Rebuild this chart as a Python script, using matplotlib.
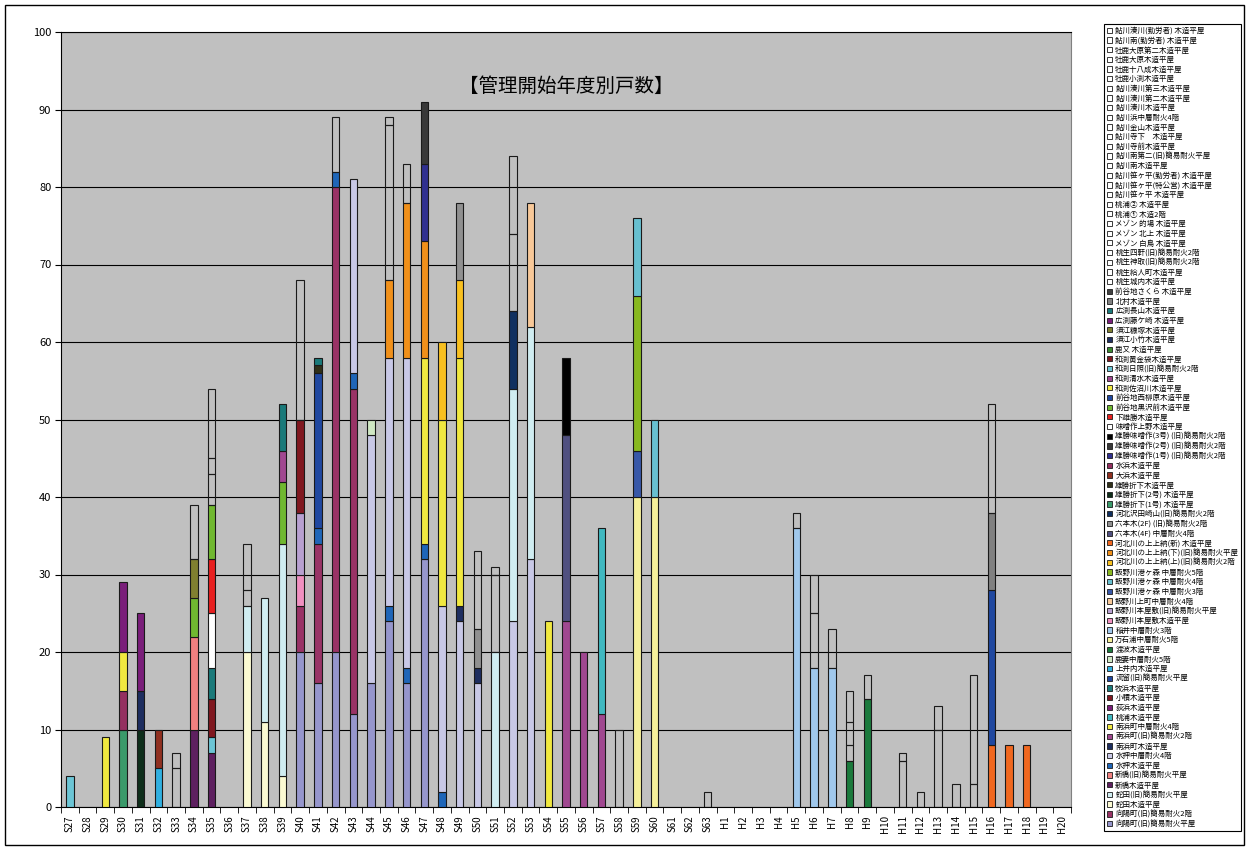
import matplotlib
matplotlib.use('Agg')
import matplotlib.pyplot as plt
from matplotlib.patches import Patch, Rectangle

plt.rcParams['font.family'] = ['Noto Sans CJK JP', 'DejaVu Sans']

# categories (fiscal year management started)
categories = ['S%d' % y for y in range(27, 64)] + ['H%d' % y for y in range(1, 21)]

# series, bottom of the stack first
series_names = [
    '向陽町(旧)簡易耐火平屋', '向陽町(旧)簡易耐火2階', '蛇田木造平屋', '蛇田(旧)簡易耐火平屋',
    '新橋木造平屋', '新橋(旧)簡易耐火平屋', '水押木造平屋', '水押中層耐火4階',
    '南浜町木造平屋', '南浜町(旧)簡易耐火2階', '南浜町中層耐火4階', '桃浦木造平屋',
    '荻浜木造平屋', '小積木造平屋', '牧浜木造平屋', '流留(旧)簡易耐火平屋',
    '上井内木造平屋', '鹿妻中層耐火5階', '渡波木造平屋', '万石浦中層耐火5階',
    '稲井中層耐火3階', '飯野川本屋敷木造平屋', '飯野川本屋敷(旧)簡易耐火平屋', '飯野川上町中層耐火4階',
    '飯野川港ヶ森 中層耐火3階', '飯野川港ヶ森 中層耐火4階', '飯野川港ヶ森 中層耐火5階',
    '河北川の上上納(上)(旧)簡易耐火2階', '河北川の上上納(下)(旧)簡易耐火平屋', '河北川の上上納(新) 木造平屋',
    '六本木(4F) 中層耐火4階', '六本木(2F) (旧)簡易耐火2階', '河北沢田崎山(旧)簡易耐火2階',
    '雄勝折下(1号) 木造平屋', '雄勝折下(2号) 木造平屋', '雄勝折下木造平屋', '大浜木造平屋', '水浜木造平屋',
    '雄勝味噌作(1号) (旧)簡易耐火2階', '雄勝味噌作(2号) (旧)簡易耐火2階', '雄勝味噌作(3号) (旧)簡易耐火2階',
    '味噌作上野木造平屋', '下雄勝木造平屋', '前谷地黒沢前木造平屋', '前谷地西柳原木造平屋',
    '和渕佐沼川木造平屋', '和渕清水木造平屋', '和渕日照(旧)簡易耐火2階', '和渕黄金袋木造平屋',
    '鹿又 木造平屋', '須江小竹木造平屋', '須江糠塚木造平屋', '広渕藤ケ崎 木造平屋', '広渕長山木造平屋',
    '北村木造平屋', '前谷地さくら 木造平屋', '桃生城内木造平屋', '桃生給人町木造平屋',
    '桃生神取(旧)簡易耐火2階', '桃生四軒(旧)簡易耐火2階', 'メゾン 白鳥 木造平屋', 'メゾン 北上 木造平屋',
    'メゾン 的場 木造平屋', '桃浦① 木造2階', '桃浦② 木造平屋', '鮎川笹ヶ平 木造平屋',
    '鮎川笹ヶ平(特公営) 木造平屋', '鮎川笹ヶ平(勤労者) 木造平屋', '鮎川南木造平屋',
    '鮎川南第二(旧)簡易耐火平屋', '鮎川寺前木造平屋', '鮎川寺下　木造平屋', '鮎川金山木造平屋',
    '鮎川浜中層耐火4階', '鮎川湊川木造平屋', '鮎川湊川第二木造平屋', '鮎川湊川第三木造平屋',
    '牡鹿小渕木造平屋', '牡鹿十八成木造平屋', '牡鹿大原木造平屋', '牡鹿大原第二木造平屋',
    '鮎川南(勤労者) 木造平屋', '鮎川湊川(勤労者) 木造平屋',
]

series_colors = [
    '#9696cc', '#993366', '#fbfad2', '#d0edf1', '#5e2060', '#f08080', '#1f66b8', '#c8c8e6',
    '#1e2e60', '#a04890', '#f0e840', '#40b8c0', '#7a1e7a', '#801820', '#1a7a7a', '#2048a0',
    '#30b0e0', '#d0e8c4', '#1a7a3c', '#f6f09a', '#a0c8ec', '#f090c0', '#b8a0d0', '#f8c898',
    '#3858a8', '#68c0d0', '#88b820', '#f8c020', '#f0901a', '#f06820', '#505080', '#909090',
    '#103060', '#3a9a6a', '#0e2e1a', '#303018', '#903020', '#943060', '#303090', '#383838',
    '#000000', '#ffffff', '#e82020', '#70b830', '#2048a0', '#f0e840', '#a04890', '#6cc5d5',
    '#801820', '#3a8a30', '#1e2e60', '#808030', '#7a1e7a', '#1a7a7a', '#808080', '#404040',
] + [None] * 27

# per category: series index and households, bottom to top
stack_series = [
    [47], [], [45], [33, 37, 45, 52], [34, 50, 52], [16, 36], [56, 57],
    [4, 5, 43, 51, 58], [4, 47, 48, 53, 41, 42, 43, 59, 60, 61], [],
    [2, 3, 62, 63], [2, 3], [2, 3, 43, 46, 53], [0, 1, 21, 22, 13, 64],
    [0, 1, 6, 15, 35, 14], [0, 1, 6, 65], [0, 1, 6, 7], [0, 7, 17],
    [0, 6, 7, 28, 66, 67], [0, 6, 7, 28, 68], [0, 6, 10, 28, 38, 39],
    [6, 7, 10, 27], [7, 8, 10, 27, 31], [7, 8, 31, 69], [3, 70, 71],
    [7, 3, 32, 72, 73], [7, 3, 23], [10], [9, 30, 40], [9], [9, 11], [74],
    [19, 24, 26, 25], [19, 25], [], [], [75],
    [], [], [], [], [20, 76], [20, 77, 78], [20, 79], [18, 80, 81, 82], [18, 57], [],
    [59, 60], [61], [62, 63], [64], [65, 66], [29, 15, 54, 67], [29], [29], [], [],
]
stack_values = [
    [4], [], [9], [10, 5, 5, 9], [10, 5, 10], [5, 5], [5, 2],
    [10, 12, 5, 5, 7], [7, 2, 5, 4, 7, 7, 7, 4, 2, 9], [],
    [20, 6, 2, 6], [11, 16], [4, 30, 8, 4, 6], [20, 6, 4, 8, 12, 18],
    [16, 18, 2, 20, 1, 1], [20, 60, 2, 7], [12, 42, 2, 25], [16, 32, 2],
    [24, 2, 32, 10, 20, 1], [16, 2, 40, 20, 5], [32, 2, 24, 15, 10, 8],
    [2, 24, 24, 10], [24, 2, 32, 10, 10], [16, 2, 5, 10], [20, 10, 1],
    [24, 30, 10, 10, 10], [32, 30, 16], [24], [24, 24, 10], [20], [12, 24], [10],
    [40, 6, 20, 10], [40, 10], [], [], [2],
    [], [], [], [], [36, 2], [18, 7, 5], [18, 5], [6, 2, 3, 4], [14, 3], [],
    [6, 1], [2], [10, 3], [3], [3, 14], [8, 20, 10, 14], [8], [8], [], [],
]

W, H = 1247, 849
fig = plt.figure(figsize=(W / 100, H / 100), dpi=100)
ax = fig.add_axes([61 / W, 1 - 807 / H, (1071 - 61) / W, (807 - 32) / H])
ax.set_facecolor('#c0c0c0')

for i, (sids, vals) in enumerate(zip(stack_series, stack_values)):
    bottom = 0
    for s, v in zip(sids, vals):
        c = series_colors[s]
        ax.bar(i, v, bottom=bottom, width=0.42, color=c if c else 'none',
               edgecolor='#1a1a1a', linewidth=0.8, zorder=3)
        bottom += v

ax.set_xlim(-0.5, len(categories) - 0.5)
ax.set_ylim(0, 100)
ax.set_yticks(range(0, 101, 10))
ax.yaxis.grid(True, color='black', linewidth=0.8)
ax.set_axisbelow(True)
ax.set_xticks(range(len(categories)))
ax.set_xticklabels(categories, rotation=90, fontsize=7)
ax.set_xticks([k + 0.5 for k in range(-1, len(categories))], minor=True)
ax.tick_params(axis='x', which='major', length=0, pad=6)
ax.tick_params(axis='x', which='minor', length=4, direction='out')
ax.tick_params(axis='y', length=4, labelsize=8, pad=3)
for side in ['left', 'bottom', 'top']:
    ax.spines[side].set_color('black')
    ax.spines[side].set_linewidth(0.8)
ax.spines['right'].set_color('#808080')

ax.text(0.5, 0.93, '【管理開始年度別戸数】', transform=ax.transAxes,
        ha='center', va='center', fontsize=14)

handles = [Patch(facecolor=c if c else 'white', edgecolor='#1a1a1a', linewidth=0.6)
           for c in series_colors]
labels = list(series_names)
leg = fig.legend(handles[::-1], labels[::-1], loc='upper left',
                 bbox_to_anchor=(1104 / W, 1 - 24 / H), fontsize=5.4,
                 labelspacing=0.22, handlelength=0.7, handleheight=0.7,
                 handletextpad=0.4, borderpad=0.4, borderaxespad=0,
                 fancybox=False, edgecolor='black', framealpha=1)
leg.get_frame().set_linewidth(0.8)

fig.patches.append(Rectangle((5 / W, 4 / H), (1244 - 5) / W, (845 - 5) / H,
                             transform=fig.transFigure, fill=False,
                             edgecolor='black', linewidth=1))

fig.savefig('out.png', dpi=100)
